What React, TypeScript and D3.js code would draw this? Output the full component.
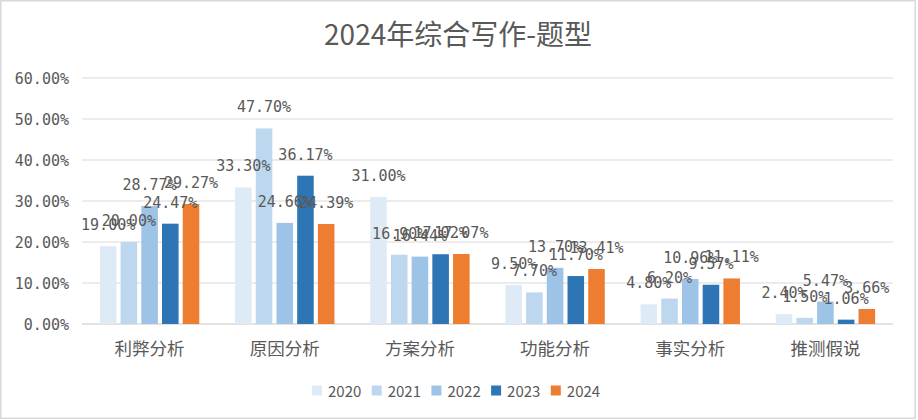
import React from "react";
import * as d3 from "d3";

const categories = ["利弊分析", "原因分析", "方案分析", "功能分析", "事实分析", "推测假说"];
const years = ["2020", "2021", "2022", "2023", "2024"];
const v2020 = [19.0, 33.3, 31.0, 9.5, 4.8, 2.4];
const v2021 = [20.0, 47.7, 16.9, 7.7, 6.2, 1.5];
const v2022 = [28.77, 24.66, 16.44, 13.7, 10.96, 5.47];
const v2023 = [24.47, 36.17, 17.02, 11.7, 9.57, 1.06];
const v2024 = [29.27, 24.39, 17.07, 13.41, 11.11, 3.66];
const yTicks = [0, 10, 20, 30, 40, 50, 60];
const colors = ["#DEEBF7", "#BDD7EE", "#9DC3E6", "#2E75B6", "#ED7D31"];
const title = "2024年综合写作-题型";

const series = [v2020, v2021, v2022, v2023, v2024];

const W = 918;
const H = 420;
const numFont = "'DejaVu Sans Mono', monospace";
const cjkFont = "'Noto Sans CJK SC', sans-serif";
const textColor = "#595959";

export default function App() {
  const x0 = d3.scaleBand<string>().domain(categories).range([82, 893]).paddingInner(0.234).paddingOuter(0.117);
  const x1 = d3.scaleBand<string>().domain(years).range([0, x0.bandwidth()]).paddingInner(0.2).paddingOuter(0.1);
  const y = d3.scaleLinear().domain([0, 60]).range([324, 78]);
  const fmt = (v: number) => v.toFixed(2) + "%";

  return (
    <div style={{ position: "fixed", left: 0, top: 0, width: W, height: H, background: "#fff" }}>
      <svg width={W} height={H} style={{ display: "block" }}>
        <rect x={0.75} y={0.75} width={914.5} height={417.5} fill="#fff" stroke="#D9D9D9" strokeWidth={1.5} />
        <text x={458} y={33} textAnchor="middle" dominantBaseline="central" fontFamily={cjkFont} fontSize={28} fill={textColor}>
          {title}
        </text>
        {yTicks.map((t) => (
          <g key={t}>
            <line x1={82} x2={893} y1={y(t)} y2={y(t)} stroke="#D9D9D9" strokeWidth={t === 0 ? 1.5 : 1.2} />
            <text x={69} y={y(t) + 5.5} textAnchor="end" fontFamily={numFont} fontSize={15} fill={textColor}>
              {t.toFixed(2) + "%"}
            </text>
          </g>
        ))}
        {categories.map((c, ci) => (
          <g key={c}>
            {series.map((s, si) => {
              const bx = (x0(c) ?? 0) + (x1(years[si]) ?? 0);
              return (
                <rect key={si} x={bx} y={y(s[ci])} width={x1.bandwidth()} height={y(0) - y(s[ci])} fill={colors[si]} />
              );
            })}
            <text x={(x0(c) ?? 0) + x0.bandwidth() / 2} y={347} textAnchor="middle" dominantBaseline="central" fontFamily={cjkFont} fontSize={17.5} fill={textColor}>
              {c}
            </text>
          </g>
        ))}
        {categories.map((c, ci) =>
          series.map((s, si) => {
            const cx = (x0(c) ?? 0) + (x1(years[si]) ?? 0) + x1.bandwidth() / 2;
            return (
              <text key={c + si} x={cx} y={y(s[ci]) - 16} textAnchor="middle" fontFamily={numFont} fontSize={15} fill={textColor}>
                {fmt(s[ci])}
              </text>
            );
          })
        )}
        {years.map((yr, i) => (
          <g key={yr} transform={`translate(${312 + i * 59.7},0)`}>
            <rect x={0} y={385.5} width={10} height={10} fill={colors[i]} />
            <text x={16} y={390.5} dominantBaseline="central" fontFamily={cjkFont} fontSize={15} fill={textColor}>
              {yr}
            </text>
          </g>
        ))}
      </svg>
    </div>
  );
}
